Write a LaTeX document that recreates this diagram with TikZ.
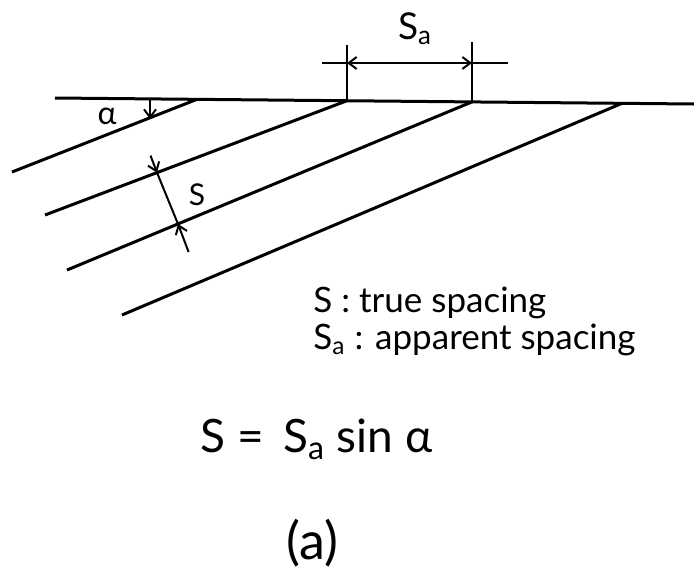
\documentclass[tikz,border=0pt]{standalone}
\usepackage{fontspec}
\setmainfont{Lato}
\usetikzlibrary{arrows.meta}
\begin{document}
\begin{tikzpicture}[x=0.5pt,y=-0.5pt,>={Straight Barb[length=4pt,width=6pt]},
  bed/.style={line width=1.5pt},
  dim/.style={line width=1pt},
  lbl/.style={inner sep=0pt,font=\fontsize{17.5}{21}\selectfont}]
\useasboundingbox (0,0) rectangle (694,573);
% surface
\coordinate (w) at (55,98);
\coordinate (e) at (694,104);
\draw[bed] (w) -- (e);
% strata
\foreach \n/\xa/\ya/\xb/\yb in {1/12/172/197/99.3, 2/45/215/347/100.7, 3/67/270/472/101.9, 4/122/315/622/103.3}{
  \coordinate (l\n) at (\xa,\ya);
  \coordinate (u\n) at (\xb,\yb);
  \draw[bed] (l\n) -- (u\n);
}
% dip angle
\coordinate (a1) at (150,100);
\coordinate (a2) at (150,119);
\draw[dim,->] (a1) -- (a2);
\node[lbl,font=\fontsize{16}{18}\selectfont] (alpha) at (107,116) {α};
% true spacing
\coordinate (s1) at (150.5,155.6);
\coordinate (s2) at (157,172.6);
\coordinate (s3) at (178,224);
\coordinate (s4) at (188.6,252);
\draw[dim] (s2) -- (s3);
\draw[dim,->] (s1) -- (s2);
\draw[dim,->] (s4) -- (s3);
\node[lbl,font=\fontsize{15}{18}\selectfont] (S) at (197,195) {S};
% apparent spacing
\coordinate (t1) at (347,45);
\coordinate (t2) at (472,42);
\coordinate (d0) at (322,63);
\coordinate (d1) at (347,63);
\coordinate (d2) at (472,63);
\coordinate (d3) at (508,63);
\draw[dim] (t1) -- (u2);
\draw[dim] (t2) -- (u3);
\draw[dim] (d0) -- (d3);
\draw[dim,<->] (d1) -- (d2);
\node[lbl,font=\fontsize{18.5}{22}\selectfont] (Sa) at (415,29) {S\textsubscript{a}};
% legend
\node[lbl,anchor=base west] (leg1) at (313,312) {S : true spacing};
\node[lbl,anchor=base west] (leg2) at (313,349) {S\textsubscript{a} : apparent spacing};
\node[lbl,anchor=base west,font=\fontsize{23}{27}\selectfont] (eq) at (200,452) {S =\, S\textsubscript{a} sin α};
\node[lbl,font=\fontsize{26}{30}\selectfont] (cap) at (312,543) {(a)};
\end{tikzpicture}
\end{document}
